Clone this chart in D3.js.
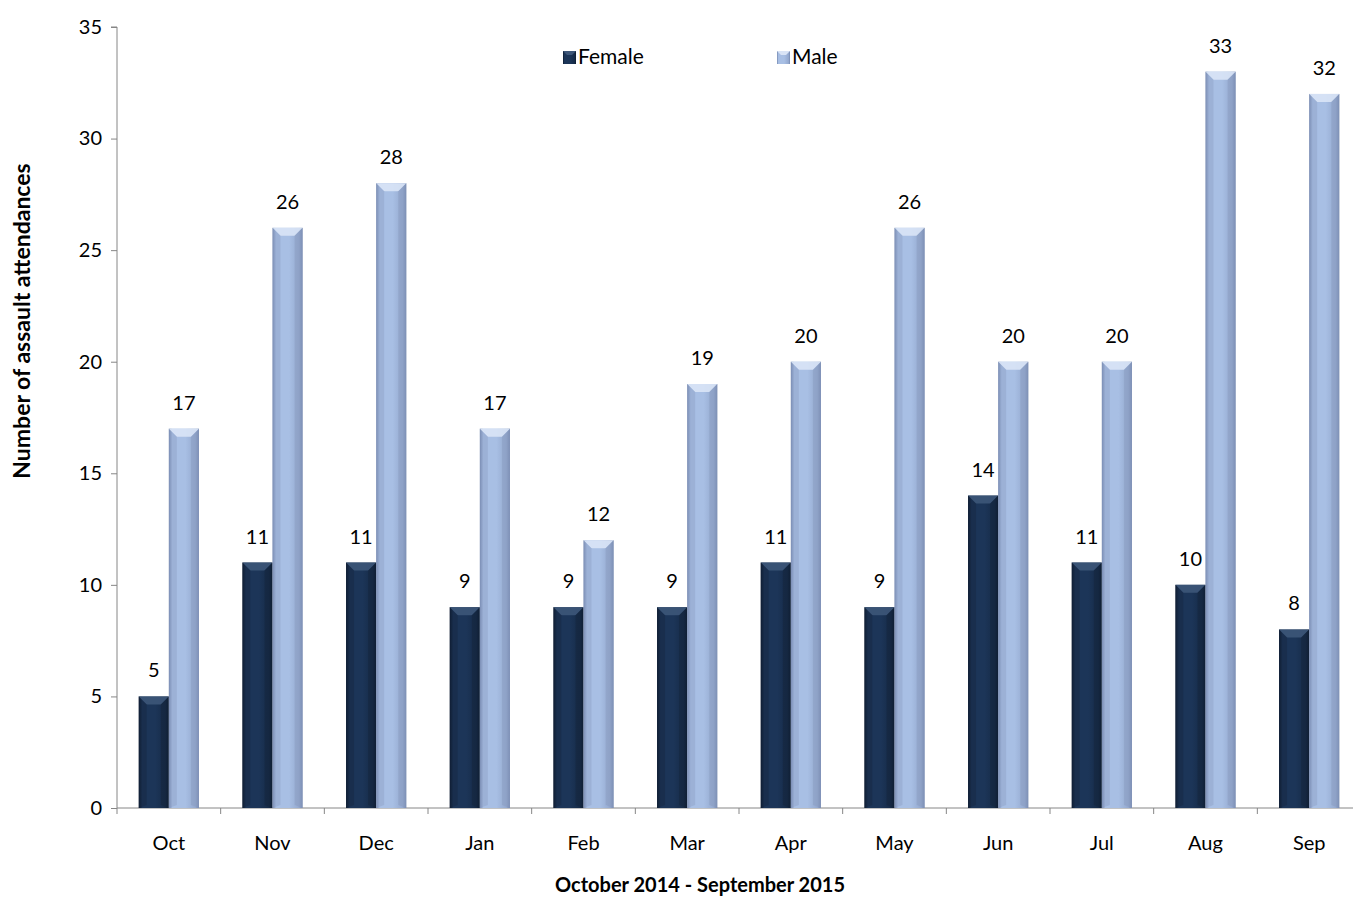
<!DOCTYPE html>
<html>
<head>
<meta charset="utf-8">
<script src="https://cdn.jsdelivr.net/npm/d3@7"></script>
<style>
  body { margin: 0; background: #fff; }
  text { font-family: Lato, "Liberation Sans", sans-serif; fill: #000; }
</style>
</head>
<body>
<svg id="chart" width="1353" height="902"></svg>
<script>
var months = ['Oct','Nov','Dec','Jan','Feb','Mar','Apr','May','Jun','Jul','Aug','Sep'];
var female = [5, 11, 11, 9, 9, 9, 11, 9, 14, 11, 10, 8];
var male = [17, 26, 28, 17, 12, 19, 20, 26, 20, 20, 33, 32];
var seriesNames = ['Female', 'Male'];
var yTicks = [0, 5, 10, 15, 20, 25, 30, 35];

var svg = d3.select('#chart');
var plotL = 117, plotR = 1361, plotT = 27, plotB = 808;

var x = d3.scaleBand().domain(months).range([plotL, plotR]).paddingInner(0).paddingOuter(0);
var xs = d3.scaleBand().domain(seriesNames).range([0, x.bandwidth()]).paddingInner(0).paddingOuter(0.72);
var y = d3.scaleLinear().domain([0, 35]).range([plotB, plotT]);

// gradients for the bevelled look
var defs = svg.append('defs');
var looks = {
  Female: { edge: '#0d1b30', mid: '#1c3558', cap: '#3d5679', capSide: '#14233a' },
  Male: { edge: '#7689b0', mid: '#a8bfe4', cap: '#d9e4f6', capSide: '#8799bd' }
};
seriesNames.forEach(function(s) {
  var g = defs.append('linearGradient').attr('id', 'g' + s).attr('x1', 0).attr('x2', 1).attr('y1', 0).attr('y2', 0);
  g.append('stop').attr('offset', '0%').attr('stop-color', looks[s].edge);
  g.append('stop').attr('offset', '12%').attr('stop-color', looks[s].mid);
  g.append('stop').attr('offset', '55%').attr('stop-color', looks[s].mid);
  g.append('stop').attr('offset', '88%').attr('stop-color', d3.interpolateRgb(looks[s].mid, looks[s].edge)(0.4));
  g.append('stop').attr('offset', '100%').attr('stop-color', looks[s].edge);
});

// axes
var yAxis = d3.axisLeft(y).tickValues(yTicks).tickSize(6).tickPadding(9);
var gy = svg.append('g').attr('transform', 'translate(' + plotL + ',0)').call(yAxis);
gy.select('.domain').attr('stroke', '#868686').attr('d', 'M-6,' + plotT + 'H0V' + (plotB + 6));
gy.selectAll('.tick line').attr('stroke', '#868686');
gy.selectAll('.tick text').style('font-size', '20px').style('font-family', 'Lato, sans-serif').attr('fill', '#000');

var gx = svg.append('g').attr('transform', 'translate(0,' + plotB + ')');
gx.append('line').attr('x1', plotL).attr('x2', plotR).attr('stroke', '#868686');
gx.selectAll('.xt').data(months).enter().append('line')
  .attr('x1', function(d) { return x(d) + x.bandwidth(); })
  .attr('x2', function(d) { return x(d) + x.bandwidth(); })
  .attr('y1', 0).attr('y2', 6).attr('stroke', '#868686');
gx.selectAll('.xl').data(months).enter().append('text')
  .attr('x', function(d) { return x(d) + x.bandwidth() / 2; })
  .attr('y', 42).attr('text-anchor', 'middle').style('font-size', '20px')
  .text(function(d) { return d; });

// bars
var rows = [];
months.forEach(function(m, i) {
  rows.push({ m: m, s: 'Female', v: female[i] });
  rows.push({ m: m, s: 'Male', v: male[i] });
});

var bar = svg.selectAll('.bar').data(rows).enter().append('g');
bar.each(function(d) {
  var g = d3.select(this);
  var x0 = x(d.m) + xs(d.s), w = xs.bandwidth();
  var y0 = y(d.v), h = plotB - y0;
  var c = 8;
  g.append('rect').attr('x', x0).attr('y', y0).attr('width', w).attr('height', h)
    .attr('fill', 'url(#g' + d.s + ')');
  // top bevel
  g.append('path').attr('d', 'M' + x0 + ',' + y0 + 'H' + (x0 + w) + 'L' + (x0 + w - c) + ',' + (y0 + c) + 'H' + (x0 + c) + 'Z')
    .attr('fill', looks[d.s].cap).attr('opacity', 0.9);
  g.append('path').attr('d', 'M' + x0 + ',' + y0 + 'L' + (x0 + c) + ',' + (y0 + c) + 'V' + (plotB - 3) + 'L' + x0 + ',' + plotB + 'Z')
    .attr('fill', looks[d.s].capSide).attr('opacity', 0.35);
  g.append('path').attr('d', 'M' + (x0 + w) + ',' + y0 + 'L' + (x0 + w - c) + ',' + (y0 + c) + 'V' + (plotB - 3) + 'L' + (x0 + w) + ',' + plotB + 'Z')
    .attr('fill', looks[d.s].capSide).attr('opacity', 0.45);
  g.append('text').attr('x', x0 + w / 2).attr('y', y0 - 19).attr('text-anchor', 'middle')
    .style('font-size', '20px').text(d.v);
});

// legend
var legendX = [563, 777];
seriesNames.forEach(function(s, i) {
  var lg = svg.append('g').attr('transform', 'translate(' + legendX[i] + ',51)');
  lg.append('rect').attr('width', 13).attr('height', 13).attr('fill', 'url(#g' + s + ')');
  lg.append('path').attr('d', 'M0,0H13L9,4H4Z').attr('fill', looks[s].cap);
  lg.append('text').attr('x', 15).attr('y', 13).style('font-size', '21px').text(s);
});

// axis titles
svg.append('text').attr('transform', 'translate(30,321) rotate(-90)').attr('text-anchor', 'middle')
  .style('font-size', '23px').style('font-weight', 'bold').text('Number of assault attendances');
svg.append('text').attr('x', 700).attr('y', 892).attr('text-anchor', 'middle')
  .style('font-size', '20px').style('font-weight', 'bold').text('October 2014 - September 2015');
</script>
</body>
</html>
